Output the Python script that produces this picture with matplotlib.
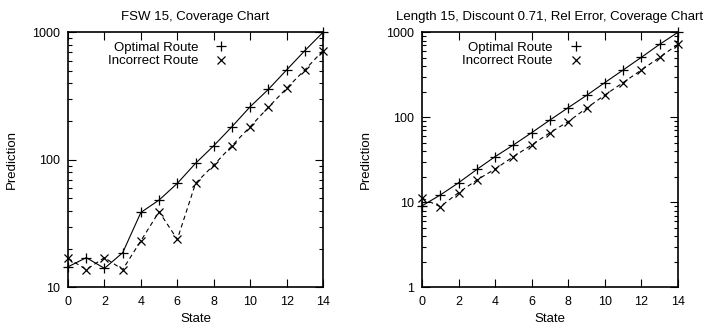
import numpy as np
import matplotlib
matplotlib.use("Agg")
import matplotlib.pyplot as plt
from matplotlib.lines import Line2D
from matplotlib.ticker import LogLocator, NullFormatter

plt.rcParams["font.family"] = ["Liberation Sans", "DejaVu Sans"]
plt.rcParams["font.size"] = 9

states = list(range(15))

# left panel: FSW 15
fsw_optimal = [14.5, 17.1, 14.1, 18.7, 38.7, 48.4, 65.4, 93.9, 129, 182, 261, 357, 507, 718, 1000]
fsw_incorrect = [16.9, 13.8, 17.1, 13.8, 23.2, 39.2, 23.8, 65.4, 91, 129, 182, 258, 364, 507, 718]

# right panel: Length 15, Discount 0.71
len_optimal = [9.1, 12.2, 17.0, 24.4, 34.5, 47.3, 66, 93, 130, 181, 256, 360, 508, 722, 1000]
len_incorrect = [11.2, 8.9, 13.0, 18.3, 24.7, 34.5, 47.3, 66, 89, 128, 183, 256, 360, 508, 722]

panels = [
    ("FSW 15, Coverage Chart", fsw_optimal, fsw_incorrect, (10, 1000)),
    ("Length 15, Discount 0.71, Rel Error, Coverage Chart", len_optimal, len_incorrect, (1, 1000)),
]

fig = plt.figure(figsize=(7.05, 3.33), dpi=100)
rects = [[0.0965, 0.137, 0.3617, 0.766], [0.5986, 0.137, 0.363, 0.766]]

for rect, (title, opt, inc, ylim) in zip(rects, panels):
    ax = fig.add_axes(rect)
    ax.plot(states, opt, color="black", lw=0.8, ls="-", marker="+", ms=7, mew=0.9, clip_on=False)
    ax.plot(states, inc, color="black", lw=0.8, ls=(0, (4, 3)), marker="x", ms=6, mew=0.9, clip_on=False)
    ax.set_yscale("log")
    ax.set_ylim(*ylim)
    ax.set_xlim(0, 14)
    ax.set_xticks(range(0, 15, 2))
    ax.yaxis.set_minor_locator(LogLocator(base=10, subs=np.arange(2, 10)))
    ax.yaxis.set_minor_formatter(NullFormatter())
    decades = range(int(np.log10(ylim[0])), 4)
    ax.set_yticks([10 ** k for k in decades])
    ax.set_yticklabels([str(10 ** k) for k in decades])
    ax.tick_params(which="both", direction="in", top=True, right=True, width=0.8)
    ax.tick_params(which="major", length=6, pad=6)
    ax.tick_params(which="minor", length=3)
    for s in ax.spines.values():
        s.set_linewidth(1.2)
    ax.set_title(title, fontsize=9.5, pad=9)
    ax.set_xlabel("State", fontsize=9.5, labelpad=4)
    ax.set_ylabel("Prediction", fontsize=9.5, labelpad=10)

    handles = [
        Line2D([], [], color="black", ls="none", marker="+", ms=7, mew=0.9),
        Line2D([], [], color="black", ls="none", marker="x", ms=6, mew=0.9),
    ]
    ax.legend(handles, ["Optimal Route", "Incorrect Route"], loc="upper left",
              bbox_to_anchor=(0.12, 1.0), frameon=False, markerfirst=False,
              fontsize=9.5, handlelength=1.5, handletextpad=1.0, labelspacing=0.1,
              borderaxespad=0.3)

fig.savefig("out.png", dpi=100)
